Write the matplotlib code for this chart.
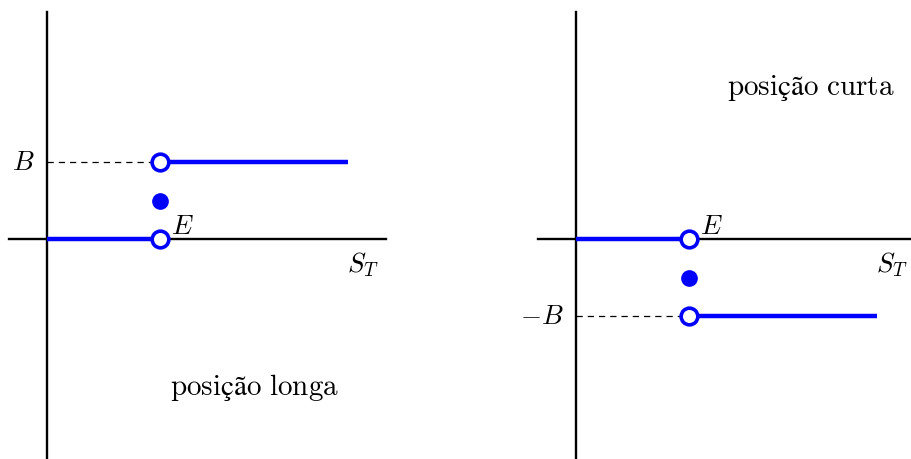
import numpy as np
import matplotlib
matplotlib.use('Agg')
import matplotlib.pyplot as plt

plt.rcParams['mathtext.fontset'] = 'cm'

# payoff of a cash-or-nothing option: strike E, cash amount B
strike = 1.0
cash = 1.0
s_max = 2.66
positions = ['long', 'short']
signs = [1, -1]
titles = [r'$\mathrm{posição\ longa}$', r'$\mathrm{posição\ curta}$']
level_labels = [r'$B$', r'$-B$']

BLUE = '#0000ff'
px_x = 113.0  # pixels per unit of S_T
px_y = 77.0   # pixels per unit of payoff


def draw_panel(ax, sign, title, level_label, origin_px, title_pos):
    W, H = 456.0, 460.0
    ox, oy = origin_px
    ax.set_xlim(-ox / px_x, (W - ox) / px_x)
    ax.set_ylim(-(H - oy) / px_y, oy / px_y)
    ax.axis('off')

    level = sign * cash
    # axes
    ax.plot([-38 / px_x, 3.0], [0, 0], color='black', lw=1.7, zorder=1)
    ax.plot([0, 0], [-(H - oy) / px_y - 0.1, (oy - 13) / px_y], color='black', lw=1.7, zorder=1)
    # dashed guide to the cash level
    ax.plot([0, strike], [level, level], color='black', lw=0.9, ls=(0, (5, 4)), zorder=1)
    # payoff segments
    ax.plot([0, strike], [0, 0], color=BLUE, lw=3.2, zorder=2, solid_capstyle='butt')
    ax.plot([strike, s_max], [level, level], color=BLUE, lw=3.2, zorder=2, solid_capstyle='butt')
    # open ends and the value at S_T = E
    ax.plot([strike, strike], [0, level], ls='none', marker='o', ms=12,
            mfc='white', mec=BLUE, mew=2.6, zorder=3)
    ax.plot([strike], [level / 2], ls='none', marker='o', ms=11, color=BLUE, zorder=3)

    ax.text(strike + 0.1, 0.0, r'$E$', fontsize=19.5, ha='left', va='bottom')
    ax.text(2.80, -0.14, r'$S_T$', fontsize=19.5, ha='center', va='top')
    ax.text(-0.11, level, level_label, fontsize=19.5, ha='right', va='center')
    ax.text(title_pos[0], title_pos[1], title, fontsize=21, ha='center', va='center')


fig = plt.figure(figsize=(9.12, 4.6), dpi=100)
ax_left = fig.add_axes([0, 0, 0.5, 1])
ax_right = fig.add_axes([0.5, 0, 0.5, 1])

draw_panel(ax_left, signs[0], titles[0], level_labels[0], (47, 240), (1.84, -1.92))
draw_panel(ax_right, signs[1], titles[1], level_labels[1], (120, 240), (2.08, 1.98))

fig.savefig('out.png', dpi=100)
